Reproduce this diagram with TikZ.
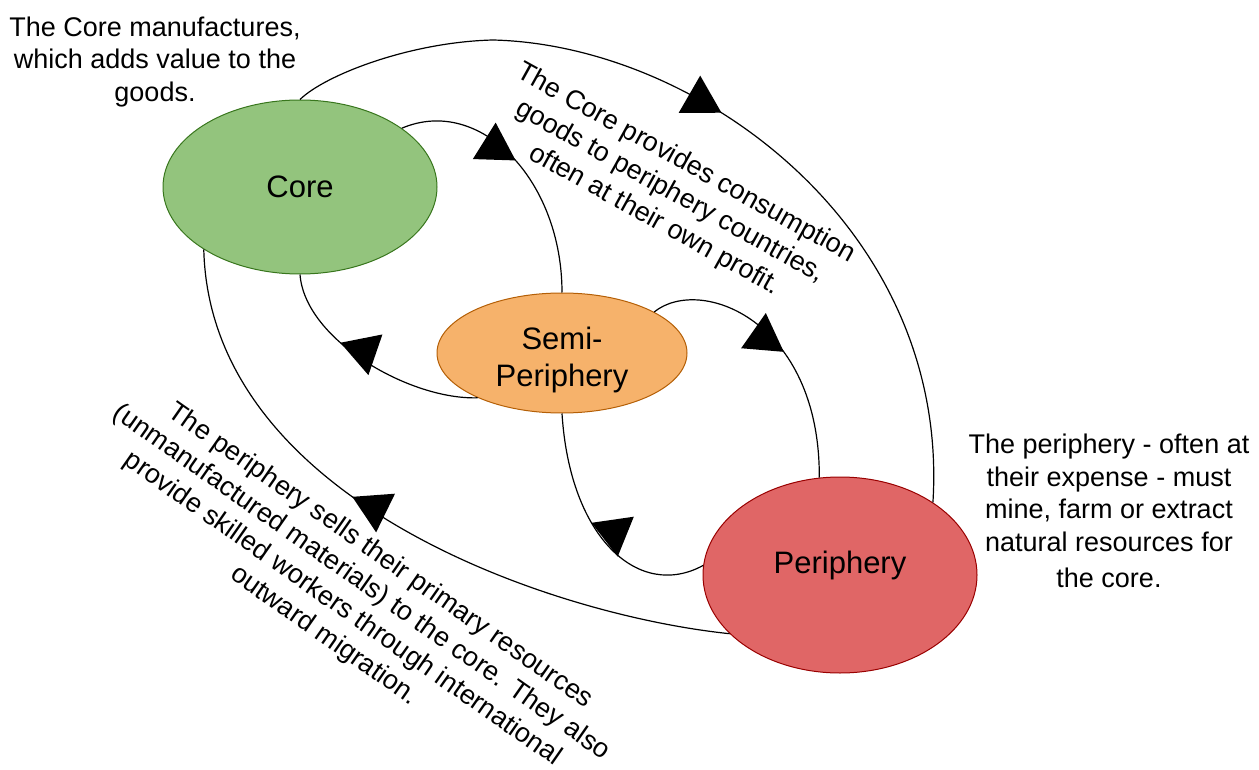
\documentclass[tikz,border=0pt]{standalone}
\usepackage{fontspec}
\setmainfont{Liberation Sans}
\usetikzlibrary{shapes.geometric,decorations.markings}
\definecolor{coreFill}{HTML}{93C47D}
\definecolor{coreLine}{HTML}{38761D}
\definecolor{semiFill}{HTML}{F6B26B}
\definecolor{semiLine}{HTML}{B45F06}
\definecolor{periFill}{HTML}{E06666}
\definecolor{periLine}{HTML}{990000}
\begin{document}
\begin{tikzpicture}[x=1pt,y=-1pt,
  blob/.style={ellipse,inner sep=0pt,line width=1pt,font=\fontsize{31}{37}\selectfont,align=center},
  note/.style={font=\fontsize{27}{32.5}\selectfont,align=center,inner sep=0pt},
  link/.style={line width=1.2pt,postaction={decorate}},
  tri/.style 2 args={decoration={markings,mark=at position #1 with {\pgftransformresetnontranslations\fill[rotate=#2] (0pt,0pt) -- (-37pt,21.5pt) -- (-37pt,-21.5pt) -- cycle;}}}
]
\useasboundingbox (0,0) rectangle (1259,770);

\node[blob,fill=coreFill,draw=coreLine,minimum width=274pt,minimum height=174pt] (core) at (300,187) {Core};
\node[blob,fill=semiFill,draw=semiLine,minimum width=250pt,minimum height=120pt] (semi) at (562,353) {\raisebox{-14pt}[0pt][0pt]{\begin{tabular}{@{}c@{}}Semi-\\Periphery\end{tabular}}};
\node[blob,fill=periFill,draw=periLine,minimum width=274pt,minimum height=196pt,text height=22pt,text depth=26pt] (peri) at (840,575) {Periphery};

\node[note] (tcore) at (155,62) {The Core manufactures,\\which adds value to the\\goods.};
\node[note] (tperi) at (1109,511) {The periphery - often at\\their expense - must\\mine, farm or extract\\natural resources for\\[4pt]the core.};
\node[note,rotate=-29] (tgoods) at (670,192) {The Core provides consumption\\goods to periphery countries,\\often at their own profit.};
\node[note,rotate=-35] (tsells) at (352,596) {The periphery sells their primary resources\\(unmanufactured materials) to the core. They also\\provide skilled workers through international\\outward migration.};

\draw[link,tri={0.49}{-30}] (core.north) .. controls (325,75) and (410,42) .. (493,40) .. controls (700,45) and (950,230) .. (peri.38);
\draw[link,tri={0.47}{-32}] (core.30) .. controls (480,95) and (562,180) .. (semi.north);
\draw[link,tri={0.65}{161}] (semi.208) .. controls (410,400) and (305,340) .. (core.south);
\draw[link,tri={0.53}{-35}] (semi.24) .. controls (700,275) and (820,320) .. (peri.102);
\draw[link,tri={0.54}{158}] (peri.176) .. controls (640,600) and (570,540) .. (semi.south);
\draw[link,tri={0.575}{154}] (peri.208) .. controls (550,615) and (210,500) .. (core.213);
\end{tikzpicture}
\end{document}
